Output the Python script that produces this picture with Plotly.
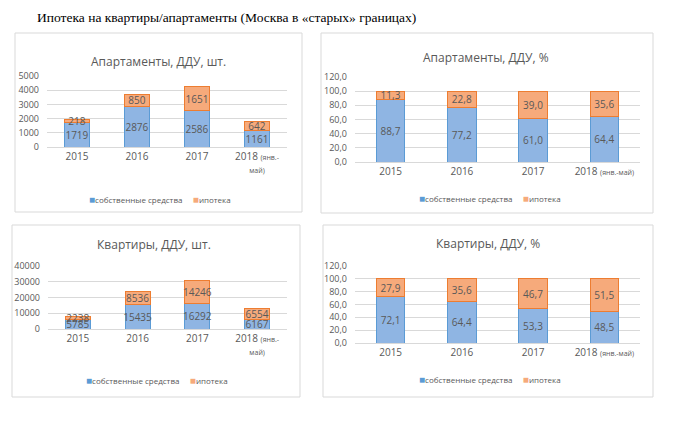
import plotly.graph_objects as go

W, H = 700, 422

years = ["2015", "2016", "2017", "2018"]
tick_wrap = ["2015", "2016", "2017",
             "2018 <span style='font-size:7px'>(янв.-</span><br><span style='font-size:7px'>май)</span>"]
tick_line = ["2015", "2016", "2017",
             "2018 <span style='font-size:7px'>(янв.-май)</span>"]

apt_own = [1719, 2876, 2586, 1161]
apt_mort = [218, 850, 1651, 642]
apt_own_pct = [88.7, 77.2, 61.0, 64.4]
apt_mort_pct = [11.3, 22.8, 39.0, 35.6]

flat_own = [5785, 15435, 16292, 6167]
flat_mort = [2238, 8536, 14246, 6554]
flat_own_pct = [72.1, 64.4, 53.3, 48.5]
flat_mort_pct = [27.9, 35.6, 46.7, 51.5]

names = ["собственные средства", "ипотека"]
blue, blue_line = "#8fb5e3", "#5b9bd5"
orange, orange_line = "#f6aa7b", "#ed7d31"
gray = "#595959"
grid = "#d9d9d9"
font = "Open Sans"


def px_x(v):
    return v / W


def px_y(v):
    return 1 - v / H


def pct_txt(vals):
    return [f"{v:.1f}".replace(".", ",") for v in vals]


# panel: title, data, plot box (px), y range, ticks, legend pos
panels = [
    dict(title="Апартаменты, ДДУ, шт.", own=apt_own, mort=apt_mort,
         own_t=[str(v) for v in apt_own], mort_t=[str(v) for v in apt_mort],
         box=(47, 287, 76, 147), yr=5000, dtick=1000, fmt="d", ticks=tick_wrap,
         width=0.42, tx=158, ty=61, lx=160, ly=199, frame=(15, 302, 33, 212)),
    dict(title="Апартаменты, ДДУ, %", own=apt_own_pct, mort=apt_mort_pct,
         own_t=pct_txt(apt_own_pct), mort_t=pct_txt(apt_mort_pct),
         box=(355, 640, 77, 162), yr=120, dtick=20, fmt=".1f", ticks=tick_line,
         width=0.4, tx=486, ty=57, lx=490, ly=198, frame=(321, 653, 33, 213)),
    dict(title="Квартиры, ДДУ, шт.", own=flat_own, mort=flat_mort,
         own_t=[str(v) for v in flat_own], mort_t=[str(v) for v in flat_mort],
         box=(48, 287, 266, 329), yr=40000, dtick=10000, fmt="d", ticks=tick_wrap,
         width=0.42, tx=154, ty=244, lx=157, ly=380, frame=(12, 300, 225, 397)),
    dict(title="Квартиры, ДДУ, %", own=flat_own_pct, mort=flat_mort_pct,
         own_t=pct_txt(flat_own_pct), mort_t=pct_txt(flat_mort_pct),
         box=(355, 640, 266, 343), yr=120, dtick=20, fmt=".1f", ticks=tick_line,
         width=0.4, tx=488, ty=243, lx=490, ly=379, frame=(323, 653, 225, 397)),
]

fig = go.Figure()
layout = {}
shapes = []
annotations = []

legend_text = (f"<span style='color:{blue_line};font-size:10px'>■</span>{names[0]}"
               "&nbsp;&nbsp;&nbsp;&nbsp;&nbsp;"
               f"<span style='color:{orange};font-size:10px'>■</span>{names[1]}")

for i, p in enumerate(panels, start=1):
    sfx = "" if i == 1 else str(i)
    series = [(p["own"], p["own_t"], names[0], blue, blue_line),
              (p["mort"], p["mort_t"], names[1], orange, orange_line)]
    for vals, txt, name, col, lc in series:
        fig.add_trace(go.Bar(
            x=years, y=vals, name=name, text=txt, showlegend=False,
            textposition="inside", insidetextanchor="middle", constraintext="none",
            textangle=0, textfont=dict(color=gray, size=10, family=font),
            marker=dict(color=col, line=dict(color=lc, width=1)),
            width=p["width"], xaxis=f"x{sfx}", yaxis=f"y{sfx}",
            cliponaxis=False, hoverinfo="skip",
        ))
    x0, x1, y0, y1 = p["box"]
    layout[f"xaxis{sfx}"] = dict(
        domain=[px_x(x0), px_x(x1)], anchor=f"y{sfx}", type="category",
        tickvals=years, ticktext=p["ticks"], showgrid=False, automargin=False,
        showline=True, linecolor=grid, ticks="",
        tickfont=dict(color=gray, size=10, family=font),
    )
    layout[f"yaxis{sfx}"] = dict(
        domain=[px_y(y1), px_y(y0)], anchor=f"x{sfx}", range=[0, p["yr"]],
        dtick=p["dtick"], tickformat=p["fmt"], gridcolor=grid, zeroline=False,
        showline=False, automargin=False,
        tickfont=dict(color=gray, size=9, family=font), ticklabelstandoff=7,
    )
    fx0, fx1, fy0, fy1 = p["frame"]
    shapes.append(dict(type="rect", xref="paper", yref="paper",
                       x0=px_x(fx0), x1=px_x(fx1), y0=px_y(fy1), y1=px_y(fy0),
                       line=dict(color=grid, width=1), layer="below"))
    annotations.append(dict(text=p["title"], xref="paper", yref="paper",
                            x=px_x(p["tx"]), y=px_y(p["ty"]), showarrow=False,
                            xanchor="center", yanchor="middle",
                            font=dict(color=gray, size=12, family=font)))
    annotations.append(dict(text=legend_text, xref="paper", yref="paper",
                            x=px_x(p["lx"]), y=px_y(p["ly"]), showarrow=False,
                            xanchor="center", yanchor="middle",
                            font=dict(color=gray, size=8, family=font)))

annotations.append(dict(text="Ипотека на квартиры/апартаменты (Москва в «старых» границах)",
                        xref="paper", yref="paper", x=px_x(35), y=px_y(17),
                        xanchor="left", yanchor="middle", showarrow=False,
                        font=dict(color="black", size=13.5, family="Liberation Serif")))

fig.update_layout(
    width=W, height=H, margin=dict(l=0, r=0, t=0, b=0), showlegend=False,
    paper_bgcolor="white", plot_bgcolor="white", barmode="stack",
    separators=", ", shapes=shapes, annotations=annotations, **layout,
)

fig.write_html("out.html", config={"displayModeBar": False},
               post_script="document.body.style.margin='0px';")
